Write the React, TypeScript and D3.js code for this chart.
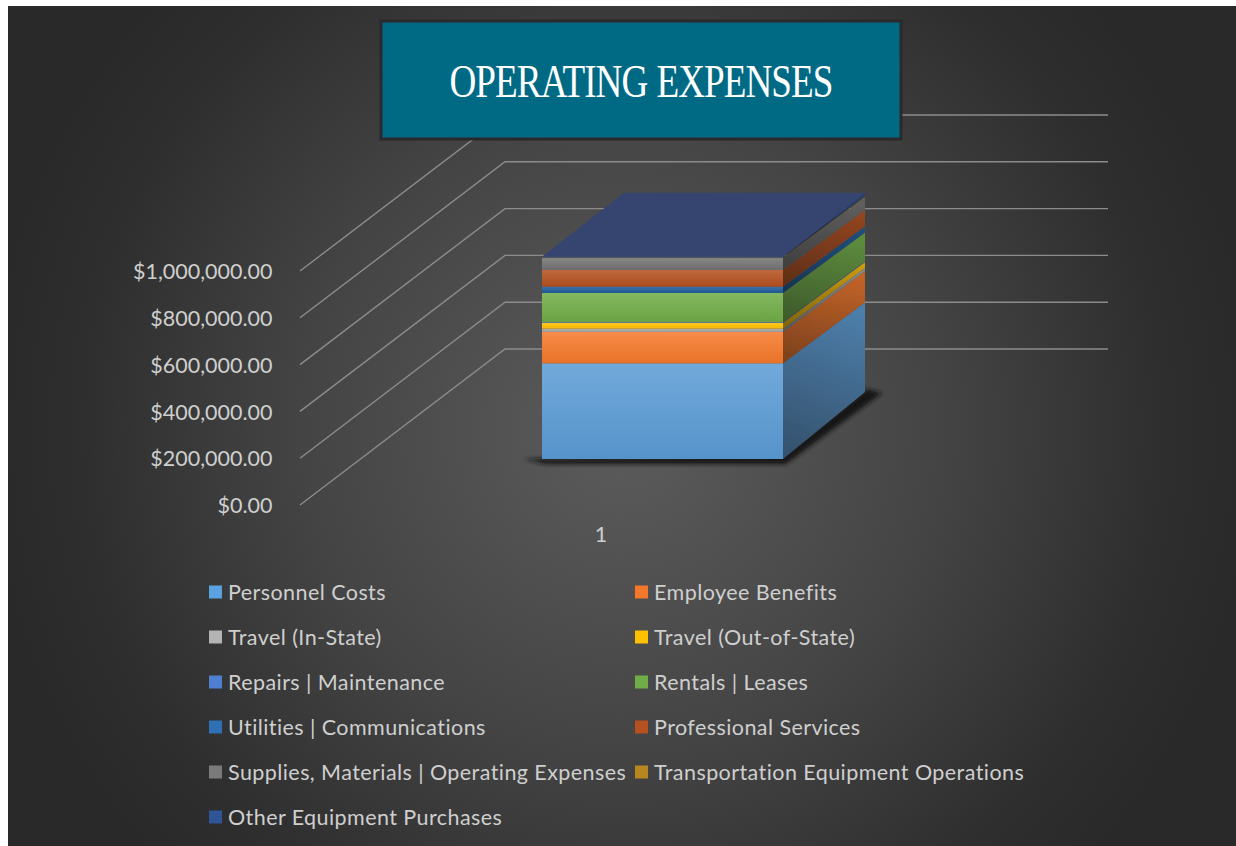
import { useEffect, useRef } from 'react';
import * as d3 from 'd3';

const seriesNames = [
  'Personnel Costs', 'Employee Benefits', 'Travel (In-State)', 'Travel (Out-of-State)',
  'Repairs | Maintenance', 'Rentals | Leases', 'Utilities | Communications', 'Professional Services',
  'Supplies, Materials | Operating Expenses', 'Transportation Equipment Operations', 'Other Equipment Purchases',
];
const seriesValues = [409000, 134000, 14000, 25600, 3000, 124000, 27000, 71000, 51000, 2000, 4000];
const seriesColors = [
  '#5b9bd5', '#f5782a', '#a5a5a5', '#ffc000', '#4472c4', '#70ad47',
  '#1f5c9a', '#b5501f', '#727272', '#b8861f', '#2f4a80',
];
const legendColors = [
  '#5ba3e0', '#f5782a', '#b4b4b4', '#ffc000', '#4f7fd0', '#70ad47',
  '#2f6fb4', '#b5501f', '#7a7a7a', '#b8861f', '#2f5597',
];
const axisTicks = [0, 200000, 400000, 600000, 800000, 1000000];
const categoryLabels = ['1'];

const [width, height] = [1236, 846];
// 3D box: offset of the back plane, and how far into the floor the bar sits
const [wallDx, wallDy] = [205, -156];
const barDx = 82;
const barFloorY = 459;

const money = d3.format('$,.2f');
const yScale = d3.scaleLinear().domain([0, 1000000]).range([505, 271]);
const xBand = d3.scaleBand().domain(categoryLabels).range([542, 783]);
const xLabel = d3.scaleBand().domain(categoryLabels).range([300, 902]);
// the projection is not quite parallel: the rise of the side face changes with height
const barRise = d3.scaleLinear().domain([0, 409000, 860000, 864600]).range([-67, -61, -60, -64]);

function App() {
  const node = useRef<SVGSVGElement>(null);
  useEffect(() => {
    if (!node.current) return;
    const svg = d3.select(node.current);
    svg.selectAll('*').remove();
    const defs = svg.append('defs');

    const bg = defs.append('radialGradient').attr('id', 'bg')
      .attr('gradientUnits', 'userSpaceOnUse')
      .attr('cx', 622).attr('cy', 430).attr('r', 640);
    bg.append('stop').attr('offset', 0).attr('stop-color', '#5c5c5c');
    bg.append('stop').attr('offset', 0.5).attr('stop-color', '#444444');
    bg.append('stop').attr('offset', 0.85).attr('stop-color', '#2e2e2e');
    bg.append('stop').attr('offset', 1).attr('stop-color', '#292929');

    defs.append('filter').attr('id', 'blur').attr('x', '-10%').attr('y', '-10%')
      .attr('width', '120%').attr('height', '120%')
      .append('feGaussianBlur').attr('stdDeviation', 2.2);
    defs.append('filter').attr('id', 'soft')
      .append('feGaussianBlur').attr('stdDeviation', 0.5);

    const row = { ...Object.fromEntries(seriesNames.map((n, i) => [n, seriesValues[i]])) };
    const layers = d3.stack<any>().keys(seriesNames)([row]);
    const h = (v: number) => yScale(0) - yScale(v);

    seriesColors.forEach((c, i) => {
      const front = defs.append('linearGradient').attr('id', 'front' + i)
        .attr('x1', 0).attr('y1', 0).attr('x2', 0).attr('y2', 1);
      front.append('stop').attr('offset', 0).attr('stop-color', d3.interpolateRgb(c, '#fff')(0.14));
      front.append('stop').attr('offset', 1).attr('stop-color', d3.interpolateRgb(c, '#000')(0.05));
      const side = defs.append('linearGradient').attr('id', 'side' + i)
        .attr('x1', 0.6).attr('y1', 0).attr('x2', 0.4).attr('y2', 1);
      side.append('stop').attr('offset', 0).attr('stop-color', d3.interpolateRgb(c, '#222')(0.24));
      side.append('stop').attr('offset', 1).attr('stop-color', d3.interpolateRgb(c, '#111')(0.52));
    });

    svg.append('rect').attr('x', 8).attr('y', 6).attr('width', width - 8).attr('height', height - 6)
      .attr('fill', 'url(#bg)');

    // walls: diagonal floor/side lines and the horizontal back lines
    const grid = svg.append('g').attr('fill', 'none').attr('stroke', '#8c8c8c')
      .attr('stroke-width', 1.4).attr('filter', 'url(#soft)');
    axisTicks.forEach(t => {
      const line = d3.line()([
        [300, yScale(t)],
        [300 + wallDx, yScale(t) + wallDy],
        [1108, yScale(t) + wallDy],
      ]);
      grid.append('path').attr('d', line);
    });

    const axisG = svg.append('g')
      .attr('transform', 'translate(272.5,0)')
      .call(d3.axisLeft(yScale).tickValues(axisTicks).tickFormat(d => money(+d)).tickSize(0).tickPadding(0));
    axisG.select('.domain').remove();
    axisG.selectAll('text').attr('fill', '#cfcfcf').attr('dy', '0.36em')
      .style('font-family', 'Lato').style('font-size', '21.5px');

    // shadow under the bar
    svg.append('path')
      .attr('d', d3.line()([[524, 459], [545, 464], [786, 464], [882, 393], [866, 389], [783, 455]]))
      .attr('fill', '#141414').attr('filter', 'url(#blur)');

    const x0 = xBand('1') as number;
    const x1 = x0 + xBand.bandwidth();
    const yFront = (v: number) => barFloorY - h(v);
    const yBack = (v: number) => yFront(v) + barRise(v);

    const bar = svg.append('g').attr('filter', 'url(#soft)');
    layers.forEach((l, i) => {
      const [a, b] = l[0];
      bar.append('rect')
        .attr('x', x0).attr('y', yFront(b)).attr('width', x1 - x0).attr('height', h(b - a))
        .attr('fill', `url(#front${i})`);
      bar.append('path')
        .attr('d', d3.line()([
          [x1, yFront(a)], [x1 + barDx, yBack(a)],
          [x1 + barDx, yBack(b)], [x1, yFront(b)],
        ]) + 'Z')
        .attr('fill', `url(#side${i})`);
    });
    const total = d3.sum(seriesValues);
    bar.append('path')
      .attr('d', d3.line()([
        [x0, yFront(total)], [x1, yFront(total)],
        [x1 + barDx, yBack(total)], [x0 + barDx, yBack(total)],
      ]) + 'Z')
      .attr('fill', '#36456f');

    svg.append('text')
      .attr('x', (xLabel('1') as number) + xLabel.bandwidth() / 2).attr('y', 542)
      .attr('text-anchor', 'middle').attr('fill', '#cfcfcf')
      .style('font-family', 'Lato').style('font-size', '21.5px')
      .text(categoryLabels[0]);

    // legend, two columns filled row by row
    const legendRow = d3.scalePoint<number>().domain(d3.range(6)).range([592, 817]);
    const legendCol = d3.scaleOrdinal<number, number>().domain([0, 1]).range([209, 635]);
    seriesNames.forEach((name, i) => {
      const g = svg.append('g')
        .attr('transform', `translate(${legendCol(i % 2)},${legendRow(Math.floor(i / 2))})`);
      g.append('rect').attr('x', 0).attr('y', -6.5).attr('width', 13).attr('height', 13)
        .attr('fill', legendColors[i]);
      g.append('text').attr('x', 19).attr('y', 7.5)
        .attr('fill', '#cfcfcf')
        .style('font-family', 'Lato').style('font-size', '21.5px').style('letter-spacing', '0.43px')
        .text(name);
    });

    // title box over the chart
    svg.append('rect').attr('x', 381).attr('y', 21).attr('width', 520).attr('height', 118)
      .attr('fill', '#006a85').attr('stroke', '#2a2a2a').attr('stroke-width', 3);
    svg.append('text').attr('x', 641).attr('y', 97).attr('text-anchor', 'middle')
      .attr('fill', '#fff').attr('textLength', 383).attr('lengthAdjust', 'spacingAndGlyphs')
      .style('font-family', 'Liberation Serif').style('font-size', '47px')
      .style('letter-spacing', '-1.2px').style('word-spacing', '1px').style('font-kerning', 'normal')
      .text('OPERATING EXPENSES');
  }, []);

  return <svg ref={node} width={width} height={height}
    style={{ position: 'absolute', left: 0, top: 0, display: 'block', background: '#fff' }} />;
}

export default App;
